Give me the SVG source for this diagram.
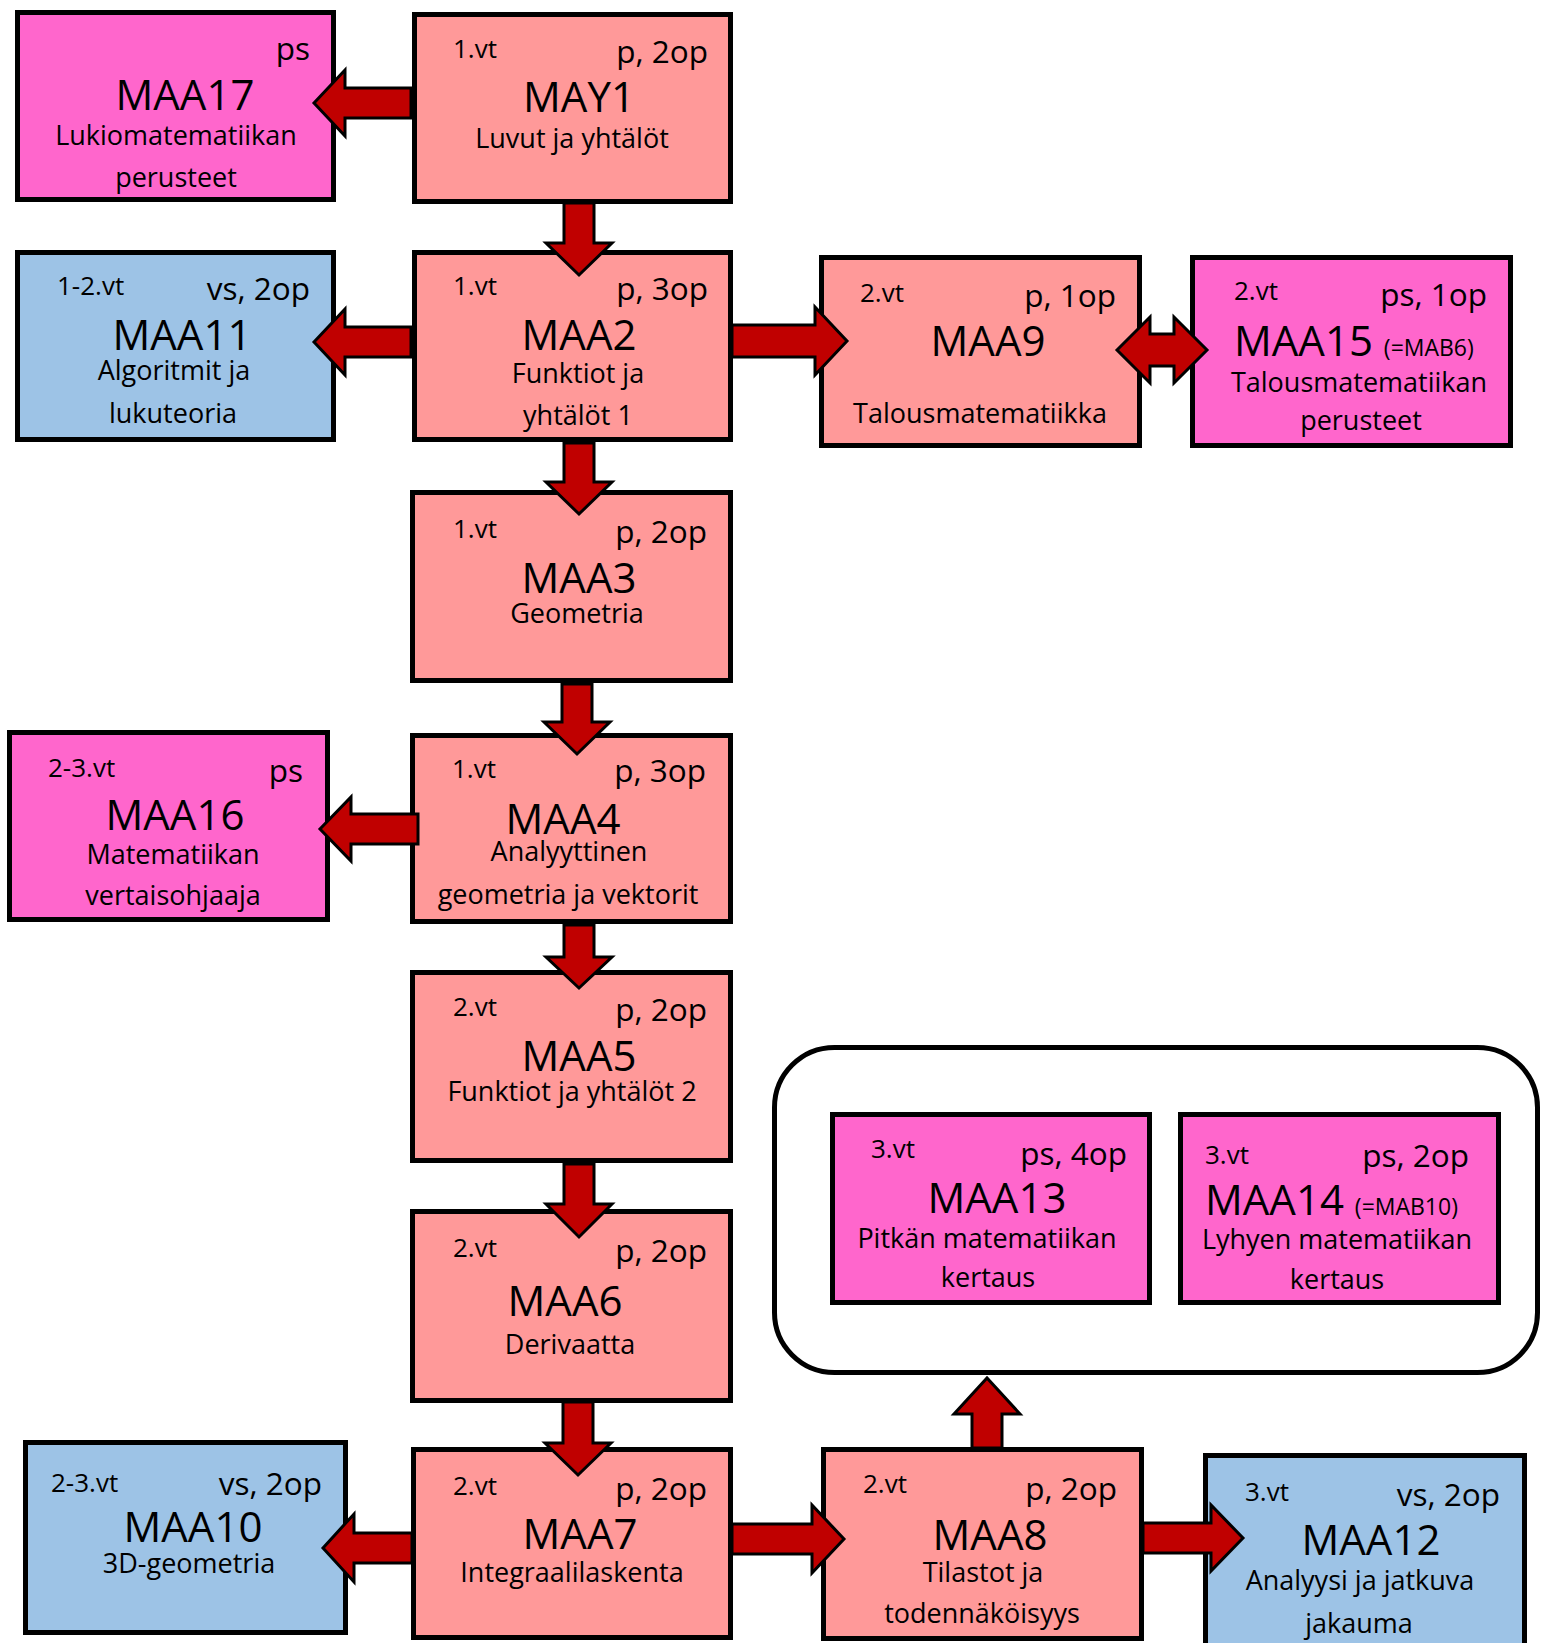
<svg xmlns="http://www.w3.org/2000/svg" width="1543" height="1643" viewBox="0 0 1543 1643">
<style>
.box{stroke:#000;stroke-width:5}
.p{fill:#FF9999}
.ps{fill:#FF66CC}
.vs{fill:#9DC3E6}
.arr{fill:#C00000;stroke:#000;stroke-width:3;stroke-linejoin:miter}
text{font-family:"Open Sans","Noto Sans","DejaVu Sans",sans-serif;fill:#000}
.l{font-size:26px}
.r{font-size:31.5px;text-anchor:end}
.t{font-size:42px;text-anchor:middle}
.ts{font-size:42px}
.sm{font-size:23px}
.d{font-size:27px;text-anchor:middle}
</style>
<rect width="1543" height="1643" fill="#fff"/>
<rect id="group-box" x="774.5" y="1047.5" width="763" height="325" rx="60" ry="60" fill="#fff" stroke="#000" stroke-width="5"/>

<g id="MAA17"><rect class="box ps" x="17.5" y="12.5" width="316" height="187"/>
<text class="r" x="310" y="60">ps</text>
<text class="t" x="185" y="110">MAA17</text>
<text class="d" x="176" y="145">Lukiomatematiikan</text>
<text class="d" x="176" y="187">perusteet</text></g>

<g id="MAY1"><rect class="box p" x="414.5" y="14.5" width="316" height="187"/>
<text class="l" x="453" y="58">1.vt</text>
<text class="r" x="708" y="63">p, 2op</text>
<text class="t" x="579" y="112">MAY1</text>
<text class="d" x="572" y="148">Luvut ja yhtälöt</text></g>

<g id="MAA11"><rect class="box vs" x="17.5" y="252.5" width="316" height="187"/>
<text class="l" x="57" y="295">1-2.vt</text>
<text class="r" x="310" y="300">vs, 2op</text>
<text class="t" x="182" y="350">MAA11</text>
<text class="d" x="174" y="380">Algoritmit ja</text>
<text class="d" x="173" y="423">lukuteoria</text></g>

<g id="MAA2"><rect class="box p" x="414.5" y="252.5" width="316" height="187"/>
<text class="l" x="453" y="295">1.vt</text>
<text class="r" x="708" y="300">p, 3op</text>
<text class="t" x="579" y="350">MAA2</text>
<text class="d" x="578" y="383">Funktiot ja</text>
<text class="d" x="578" y="425">yhtälöt 1</text></g>

<g id="MAA9"><rect class="box p" x="821.5" y="257.5" width="318" height="188"/>
<text class="l" x="860" y="302">2.vt</text>
<text class="r" x="1116" y="307">p, 1op</text>
<text class="t" x="988" y="356">MAA9</text>
<text class="d" x="980" y="423">Talousmatematiikka</text></g>

<g id="MAA15"><rect class="box ps" x="1192.5" y="257.5" width="318" height="188"/>
<text class="l" x="1234" y="300">2.vt</text>
<text class="r" x="1487" y="306">ps, 1op</text>
<text class="ts" x="1234" y="356">MAA15 <tspan class="sm">(=MAB6)</tspan></text>
<text class="d" x="1359" y="392">Talousmatematiikan</text>
<text class="d" x="1361" y="430">perusteet</text></g>

<g id="MAA3"><rect class="box p" x="412.5" y="492.5" width="318" height="188"/>
<text class="l" x="453" y="538">1.vt</text>
<text class="r" x="707" y="543">p, 2op</text>
<text class="t" x="579" y="593">MAA3</text>
<text class="d" x="577" y="623">Geometria</text></g>

<g id="MAA16"><rect class="box ps" x="9.5" y="732.5" width="318" height="187"/>
<text class="l" x="48" y="777">2-3.vt</text>
<text class="r" x="303" y="782">ps</text>
<text class="t" x="175" y="830">MAA16</text>
<text class="d" x="173" y="864">Matematiikan</text>
<text class="d" x="173" y="905">vertaisohjaaja</text></g>

<g id="MAA4"><rect class="box p" x="412.5" y="735.5" width="318" height="186"/>
<text class="l" x="452" y="778">1.vt</text>
<text class="r" x="706" y="782">p, 3op</text>
<text class="t" x="563" y="834">MAA4</text>
<text class="d" x="569" y="861">Analyyttinen</text>
<text class="d" x="568" y="904">geometria ja vektorit</text></g>

<g id="MAA5"><rect class="box p" x="412.5" y="972.5" width="318" height="188"/>
<text class="l" x="453" y="1016">2.vt</text>
<text class="r" x="707" y="1021">p, 2op</text>
<text class="t" x="579" y="1071">MAA5</text>
<text class="d" x="572" y="1101">Funktiot ja yhtälöt 2</text></g>

<g id="MAA13"><rect class="box ps" x="832.5" y="1114.5" width="317" height="188"/>
<text class="l" x="871" y="1158">3.vt</text>
<text class="r" x="1127" y="1165">ps, 4op</text>
<text class="t" x="997" y="1213">MAA13</text>
<text class="d" x="987" y="1248">Pitkän matematiikan</text>
<text class="d" x="988" y="1287">kertaus</text></g>

<g id="MAA14"><rect class="box ps" x="1180.5" y="1114.5" width="318" height="188"/>
<text class="l" x="1205" y="1164">3.vt</text>
<text class="r" x="1469" y="1167">ps, 2op</text>
<text class="ts" x="1205" y="1215">MAA14 <tspan class="sm">(=MAB10)</tspan></text>
<text class="d" x="1337" y="1249">Lyhyen matematiikan</text>
<text class="d" x="1337" y="1289">kertaus</text></g>

<g id="MAA6"><rect class="box p" x="412.5" y="1211.5" width="318" height="189"/>
<text class="l" x="453" y="1257">2.vt</text>
<text class="r" x="707" y="1262">p, 2op</text>
<text class="t" x="565" y="1316">MAA6</text>
<text class="d" x="570" y="1354">Derivaatta</text></g>

<g id="MAA10"><rect class="box vs" x="25.5" y="1442.5" width="320" height="190"/>
<text class="l" x="51" y="1492">2-3.vt</text>
<text class="r" x="322" y="1495">vs, 2op</text>
<text class="t" x="193" y="1542">MAA10</text>
<text class="d" x="189" y="1573">3D-geometria</text></g>

<g id="MAA7"><rect class="box p" x="413.5" y="1449.5" width="317" height="188"/>
<text class="l" x="453" y="1495">2.vt</text>
<text class="r" x="707" y="1500">p, 2op</text>
<text class="t" x="580" y="1549">MAA7</text>
<text class="d" x="572" y="1582">Integraalilaskenta</text></g>

<g id="MAA8"><rect class="box p" x="823.5" y="1449.5" width="318" height="189"/>
<text class="l" x="863" y="1493">2.vt</text>
<text class="r" x="1117" y="1500">p, 2op</text>
<text class="t" x="990" y="1550">MAA8</text>
<text class="d" x="983" y="1582">Tilastot ja</text>
<text class="d" x="982" y="1623">todennäköisyys</text></g>

<g id="MAA12"><rect class="box vs" x="1205.5" y="1455.5" width="319" height="195"/>
<text class="l" x="1245" y="1501">3.vt</text>
<text class="r" x="1500" y="1506">vs, 2op</text>
<text class="t" x="1371" y="1555">MAA12</text>
<text class="d" x="1360" y="1590">Analyysi ja jatkuva</text>
<text class="d" x="1359" y="1633">jakauma</text></g>

<g id="connectors">
<polygon class="arr" points="411,88 345,88 345,70 314,103 345,136 345,118 411,118"/>
<polygon class="arr" points="411,327 345,327 345,309 314,342 345,375 345,357 411,357"/>
<polygon class="arr" points="418,814 351,814 351,797 320,829 351,861 351,844 418,844"/>
<polygon class="arr" points="412,1533 354,1533 354,1514 323,1548 354,1582 354,1563 412,1563"/>
<polygon class="arr" points="732,325 815,325 815,307 847,341 815,375 815,357 732,357"/>
<polygon class="arr" points="732,1524 812,1524 812,1505 844,1539 812,1573 812,1554 732,1554"/>
<polygon class="arr" points="1143,1523 1211,1523 1211,1505 1243,1538 1211,1571 1211,1553 1143,1553"/>
<polygon class="arr" points="1117,350 1150,317 1150,334 1174,334 1174,317 1207,350 1174,383 1174,366 1150,366 1150,383"/>
<polygon class="arr" points="564,203 564,243 546,243 579,275 612,243 594,243 594,203"/>
<polygon class="arr" points="564,443 564,482 546,482 579,514 612,482 594,482 594,443"/>
<polygon class="arr" points="562,684 562,722 544,722 577,754 610,722 592,722 592,684"/>
<polygon class="arr" points="564,925 564,957 546,957 579,988 612,957 594,957 594,925"/>
<polygon class="arr" points="564,1164 564,1204 546,1204 579,1237 612,1204 594,1204 594,1164"/>
<polygon class="arr" points="563,1402 563,1443 545,1443 578,1475 611,1443 593,1443 593,1402"/>
<polygon class="arr" points="972,1448 972,1414 954,1414 987,1378 1020,1414 1002,1414 1002,1448"/>
</g>
</svg>
